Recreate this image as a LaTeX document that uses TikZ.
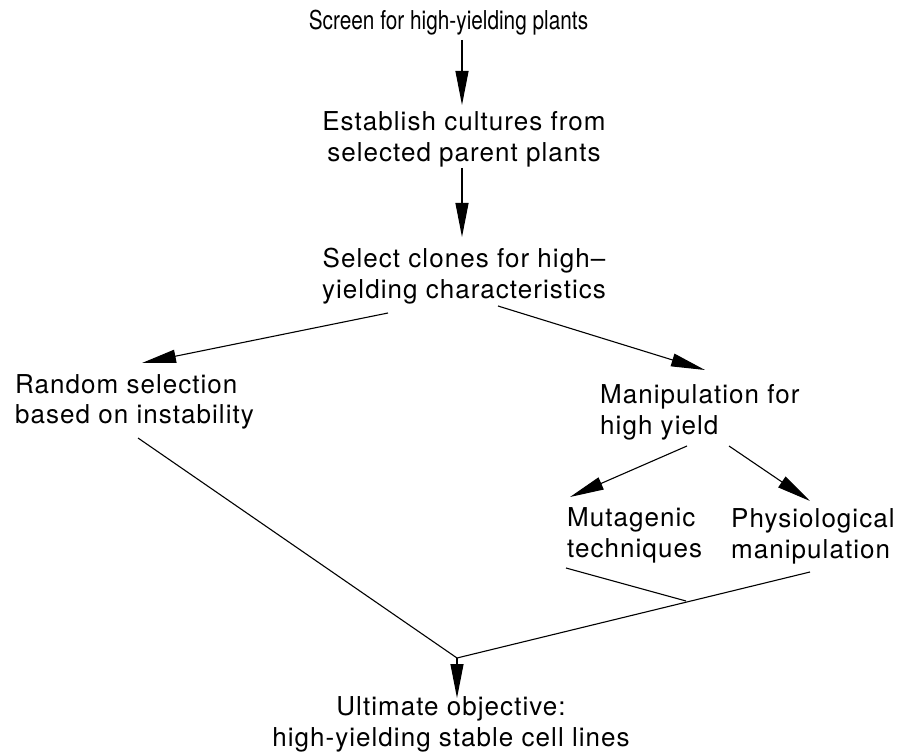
\documentclass[tikz,border=0pt]{standalone}
\usepackage{fontspec}
\setmainfont{TeX Gyre Heros}[LetterSpace=4.0]
\newfontfamily\condfont{TeX Gyre Heros}[FakeStretch=0.80]
\usetikzlibrary{arrows.meta}
\tikzset{
  lbl/.style={inner sep=0pt, font=\fontsize{26}{31}\selectfont},
  arr/.style={line width=1.1pt, -{Triangle[length=34pt,width=13pt]}},
  plain/.style={line width=1.1pt}
}
\begin{document}
\begin{tikzpicture}[x=1pt,y=-1pt]
\useasboundingbox (0,0) rectangle (898,754);
% text nodes (base anchor = baseline of the last line)
\node[lbl, anchor=base] (screen) at (448.5,30) {\condfont Screen for high-yielding plants};
\node[lbl, anchor=base, align=center] (establish) at (464,162) {Establish cultures from\\selected parent plants};
\node[lbl, anchor=base, align=center] (select) at (464,299) {Select clones for high--\\yielding characteristics};
\node[lbl, anchor=base west, align=left] (random) at (15,424) {Random selection\\based on instability};
\node[lbl, anchor=base west, align=left] (manip) at (600,434) {Manipulation for\\high yield};
\node[lbl, anchor=base west, align=left] (muta) at (567,557) {Mutagenic\\techniques};
\node[lbl, anchor=base west, align=left] (physio) at (731,558) {Physiological\\manipulation};
\node[lbl, anchor=base, align=center] (ultimate) at (451,746) {Ultimate objective:\\high-yielding stable cell lines};
% connector end points
\coordinate (s1) at (462,40);   \coordinate (e1) at (462,105);
\coordinate (s2) at (462,168);  \coordinate (e2) at (462,237);
\coordinate (s3) at (388,313);  \coordinate (e3) at (142,363);
\coordinate (s4) at (498,306);  \coordinate (e4) at (705,370);
\coordinate (s5) at (687,446);  \coordinate (e5) at (570,497);
\coordinate (s6) at (729,446);  \coordinate (e6) at (810,501);
\coordinate (r1) at (138,438);
\coordinate (p1) at (810,572);
\coordinate (m1) at (566,568);
\coordinate (mj) at (686,601);
\coordinate (join) at (457,658);
\coordinate (e7) at (457,698);
% connectors
\draw[arr] (s1) -- (e1);
\draw[arr] (s2) -- (e2);
\draw[arr] (s3) -- (e3);
\draw[arr] (s4) -- (e4);
\draw[arr] (s5) -- (e5);
\draw[arr] (s6) -- (e6);
\draw[plain] (r1) -- (join);
\draw[plain] (p1) -- (join);
\draw[plain] (m1) -- (mj);
\draw[arr] (join) -- (e7);
\end{tikzpicture}
\end{document}
